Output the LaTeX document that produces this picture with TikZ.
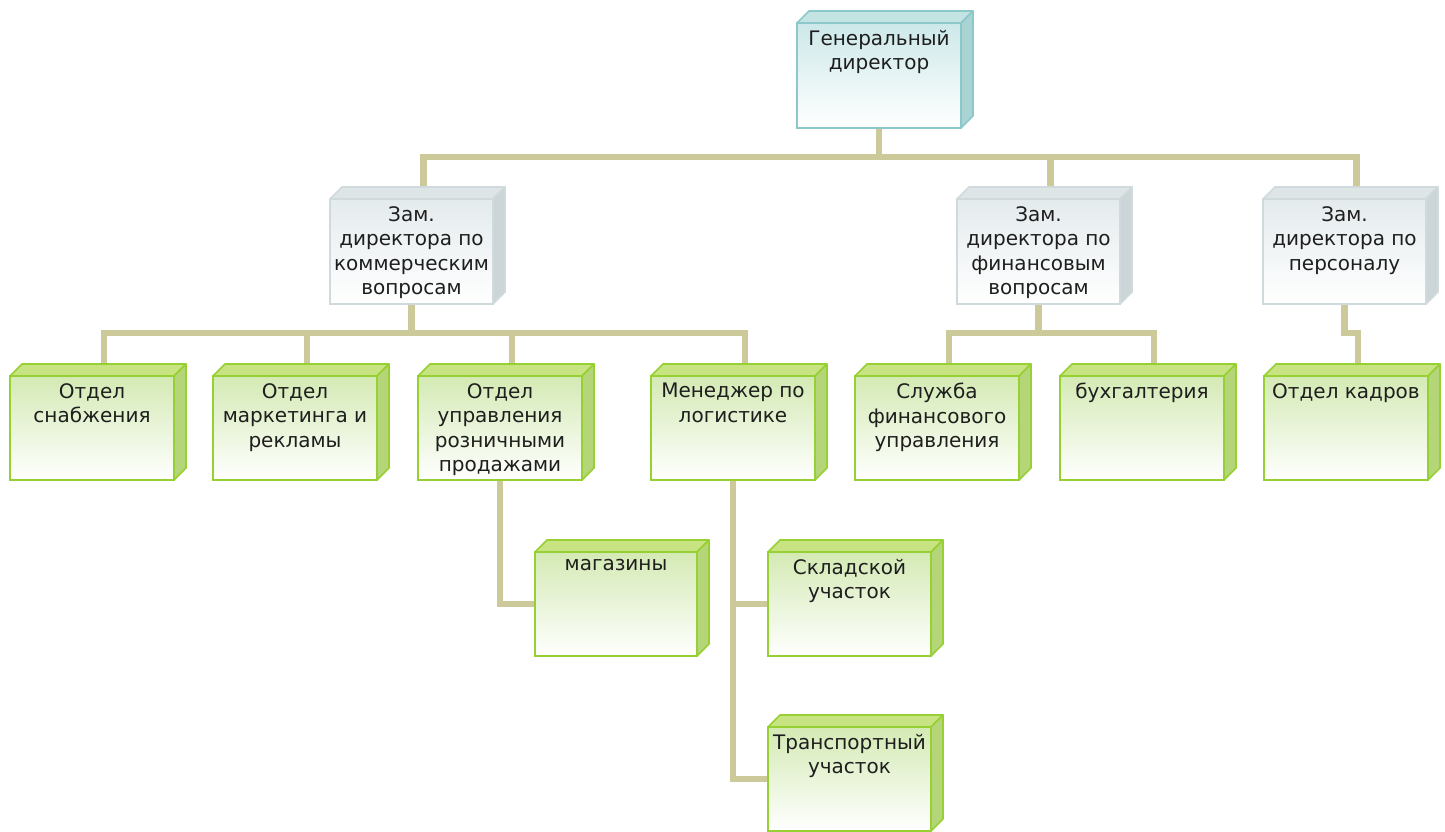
\documentclass[tikz,border=0pt]{standalone}
\usepackage{fontspec}
\setmainfont{DejaVu Sans}
\usetikzlibrary{calc,backgrounds}
\definecolor{conncol}{RGB}{204,202,154}
\definecolor{gbord}{RGB}{150,208,50}
\definecolor{gtopc}{RGB}{200,228,130}
\definecolor{gsidec}{RGB}{180,214,120}
\definecolor{gfill}{RGB}{212,234,180}
\definecolor{sbord}{RGB}{208,218,220}
\definecolor{stopc}{RGB}{222,229,231}
\definecolor{ssidec}{RGB}{204,214,216}
\definecolor{sfill}{RGB}{228,235,237}
\definecolor{bbord}{RGB}{140,200,200}
\definecolor{btopc}{RGB}{196,227,227}
\definecolor{bsidec}{RGB}{170,212,212}
\definecolor{bfill}{RGB}{205,232,233}
\definecolor{txtc}{RGB}{30,30,30}
\tikzset{
  front/.style={draw, line width=2pt, inner sep=0pt, outer sep=0pt},
  gface/.style={front, draw=gbord, top color=gfill, bottom color=white},
  gtop/.style={fill=gtopc, draw=gbord, line width=1.6pt, line join=round},
  gside/.style={fill=gsidec, draw=gbord, line width=1.6pt, line join=round},
  sface/.style={front, draw=sbord, top color=sfill, bottom color=white},
  stop/.style={fill=stopc, draw=sbord, line width=1.6pt, line join=round},
  sside/.style={fill=ssidec, draw=sbord, line width=1.6pt, line join=round},
  bface/.style={front, draw=bbord, top color=bfill, bottom color=white},
  btop/.style={fill=btopc, draw=bbord, line width=1.6pt, line join=round},
  bside/.style={fill=bsidec, draw=bbord, line width=1.6pt, line join=round},
  boxtext/.style={align=center, inner sep=0pt, text=txtc, font=\fontsize{20}{24.5}\selectfont},
  conn/.style={draw=conncol, line width=6.5pt},
}
\newcommand\cubebox[7]{%
  \node[#2face, anchor=north west, minimum width=#5pt, minimum height=#6pt] (#1) at (#3,#4) {};
  \filldraw[#2top] (#1.north west) -- ++(12,-12) -- ([shift={(12,-12)}]#1.north east) -- (#1.north east) -- cycle;
  \filldraw[#2side] (#1.north east) -- ++(12,-12) -- ([shift={(12,-12)}]#1.south east) -- (#1.south east) -- cycle;
  \node[boxtext, anchor=north] (#1-t) at ([yshift=-7pt]#1.north) {#7};
  \coordinate (#1T) at ([shift={(12,-12)}]#1.north);
}
\begin{document}
\begin{tikzpicture}[x=1pt,y=-1pt]
\useasboundingbox (0,0) rectangle (1445,831);
\cubebox{gd}{b}{797}{23}{164}{105}{Генеральный\\директор}
\cubebox{kom}{s}{330}{199}{163}{105}{Зам.\\директора по\\коммерческим\\вопросам}
\cubebox{fin}{s}{957}{199}{163}{105}{Зам.\\директора по\\финансовым\\вопросам}
\cubebox{pers}{s}{1263}{199}{163}{105}{Зам.\\директора по\\персоналу}
\cubebox{snab}{g}{10}{376}{164}{104}{Отдел\\снабжения}
\cubebox{mark}{g}{213}{376}{164}{104}{Отдел\\маркетинга и\\рекламы}
\cubebox{retail}{g}{418}{376}{164}{104}{Отдел\\управления\\розничными\\продажами}
\cubebox{log}{g}{651}{376}{164}{104}{Менеджер по\\логистике}
\cubebox{fserv}{g}{855}{376}{164}{104}{Служба\\финансового\\управления}
\cubebox{buh}{g}{1060}{376}{164}{104}{бухгалтерия}
\cubebox{kadr}{g}{1264}{376}{164}{104}{Отдел кадров}
\cubebox{mag}{g}{535}{552}{162}{104}{магазины}
\cubebox{sklad}{g}{768}{552}{163}{104}{Складской\\участок}
\cubebox{trans}{g}{768}{727}{163}{104}{Транспортный\\участок}
\begin{scope}[on background layer]
\draw[conn] (gd.south) -- ++(0,29) coordinate (j0);
\draw[conn] (komT) |- (j0) -| (persT);
\draw[conn] (finT) -- (finT |- j0);
\draw[conn] (kom.south) -- ++(0,29) coordinate (j1);
\draw[conn] (snabT) |- (j1) -| (logT);
\draw[conn] (markT) -- (markT |- j1);
\draw[conn] (retailT) -- (retailT |- j1);
\draw[conn] (fin.south) -- ++(0,29) coordinate (j2);
\draw[conn] (fservT) |- (j2) -| (buhT);
\draw[conn] (pers.south) -- ++(0,29) -| (kadrT);
\draw[conn] (retail.south) |- (mag.west);
\draw[conn] (log.south) |- (trans.west);
\draw[conn] (log.south |- sklad.west) -- (sklad.west);
\end{scope}
\end{tikzpicture}
\end{document}
